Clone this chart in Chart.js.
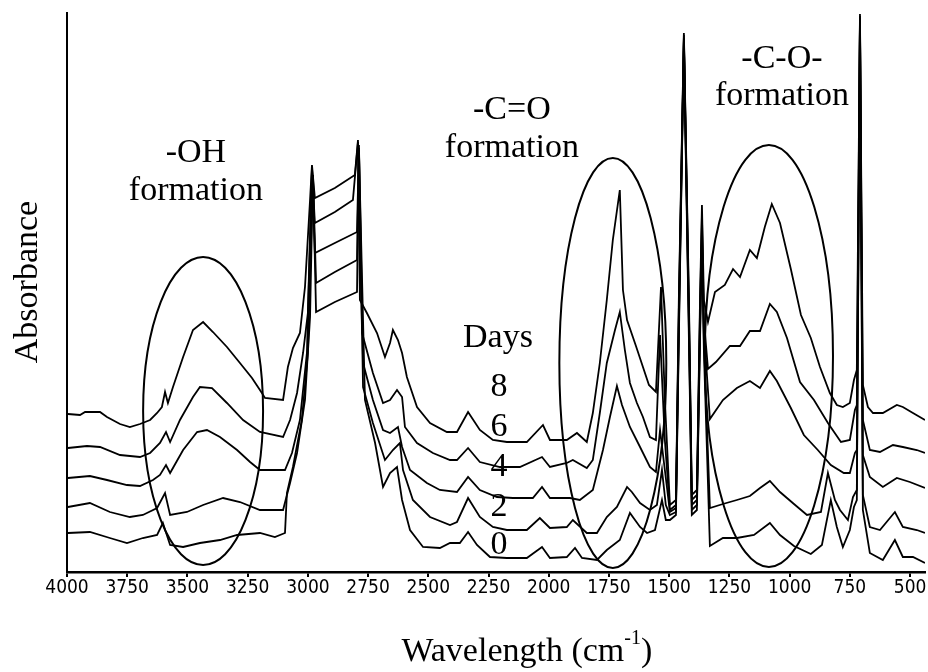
<!DOCTYPE html>
<html>
<head>
<meta charset="utf-8">
<script src="https://cdn.jsdelivr.net/npm/chart.js@4.4.1/dist/chart.umd.min.js"></script>
<style>
  html, body { margin: 0; padding: 0; background: #fff; }
  canvas { display: block; }
</style>
</head>
<body>
<canvas id="ftirChart" width="928" height="672"></canvas>
<script>
// FTIR spectra, stacked by exposure time (arbitrary absorbance units)
const day8Wn = [3996,3946,3925,3863,3834,3780,3739,3697,3655,3626,3606,3593,3581,3560,3518,3477,3435,3394,3336,3282,3232,3199,3178,3103,3083,3062,3033,3012,2991,2983,2971,2888,2805,2792,2784,2755,2713,2680,2659,2647,2626,2609,2589,2547,2493,2423,2381,2335,2286,2232,2174,2091,2024,1995,1925,1883,1842,1817,1788,1759,1734,1705,1692,1675,1638,1584,1555,1534,1518,1497,1472,1460,1439,1418,1406,1385,1372,1364,1356,1339,1310,1269,1235,1206,1165,1136,1103,1074,1040,995,953,912,874,833,804,779,750,733,721,708,696,675,654,613,555,530,488,438];
const day8Abs = [158,157,160,160,155,148,145,148,152,159,165,180,169,185,215,242,250,240,225,209,194,182,174,172,205,224,239,285,372,407,374,384,397,432,272,259,239,215,229,242,232,219,195,165,149,140,140,160,142,132,130,130,147,132,132,139,130,159,209,272,332,382,282,252,226,187,180,285,172,67,72,272,539,272,77,82,272,367,272,250,280,287,303,295,322,314,345,368,349,303,257,234,205,179,167,165,169,192,202,558,187,165,159,159,167,165,159,152];

const day6Wn = [3996,3917,3863,3780,3697,3655,3614,3589,3572,3531,3477,3448,3398,3336,3269,3199,3103,3074,3045,3020,3000,2983,2971,2888,2813,2792,2775,2730,2688,2659,2630,2609,2597,2547,2481,2410,2381,2335,2286,2203,2120,2028,1995,1925,1900,1842,1817,1788,1759,1725,1705,1684,1663,1634,1609,1580,1555,1538,1518,1497,1472,1460,1439,1418,1406,1385,1372,1364,1356,1339,1306,1248,1206,1165,1123,1082,1053,1011,957,899,841,787,750,729,721,708,696,667,625,571,530,472,438];
const day6Abs = [124,126,125,117,115,119,129,140,130,152,175,185,184,169,152,140,135,152,179,219,259,405,349,360,372,430,239,199,169,172,182,175,145,129,119,112,112,124,110,105,105,115,105,109,112,104,112,159,209,242,260,222,189,169,155,135,132,237,132,62,67,262,537,262,72,77,262,357,252,203,210,226,226,241,241,268,260,234,190,172,149,130,132,162,167,556,152,122,120,127,125,122,119];

const day4Wn = [3996,3905,3834,3751,3697,3643,3614,3589,3572,3518,3460,3419,3365,3294,3240,3199,3095,3066,3033,3004,2983,2971,2888,2796,2788,2771,2730,2688,2659,2626,2609,2576,2506,2452,2381,2335,2286,2215,2149,2066,2028,1995,1912,1871,1817,1775,1746,1717,1696,1663,1621,1580,1555,1538,1518,1497,1472,1460,1439,1418,1406,1385,1372,1364,1356,1331,1277,1219,1165,1123,1082,1053,995,941,883,829,775,750,729,721,708,696,667,613,555,501,438];
const day4Abs = [94,96,92,87,86,92,97,107,99,122,140,142,135,122,110,102,102,119,152,219,402,319,329,340,427,209,172,142,139,145,125,102,89,82,80,95,82,75,74,74,85,74,74,72,82,122,155,186,167,145,125,105,100,142,102,60,64,252,534,252,67,72,252,347,242,153,172,184,191,184,201,191,164,137,122,107,99,99,119,122,554,117,95,85,94,90,84];

const day2Wn = [3996,3905,3822,3739,3685,3626,3593,3572,3502,3435,3352,3282,3199,3103,3074,3045,3012,2991,2979,2966,2888,2796,2788,2771,2730,2680,2647,2618,2605,2564,2493,2410,2381,2335,2286,2232,2174,2091,2037,1995,1925,1900,1842,1800,1759,1717,1675,1655,1621,1580,1551,1530,1514,1497,1472,1460,1439,1418,1406,1385,1372,1364,1356,1331,1277,1219,1165,1123,1082,1040,982,928,870,841,812,791,758,737,721,708,696,667,625,563,530,472,438];
const day2Abs = [65,69,60,55,57,64,79,57,60,67,74,70,62,62,89,119,172,255,397,289,300,312,424,185,149,112,122,129,102,72,55,47,50,74,55,45,42,42,54,44,45,52,39,39,55,65,85,80,69,62,67,102,67,57,60,242,532,242,62,67,242,337,232,64,68,72,76,84,91,80,68,57,60,99,72,62,52,75,82,552,77,45,42,60,45,42,39];

const day0Wn = [3996,3905,3822,3751,3685,3626,3602,3572,3518,3448,3365,3294,3199,3137,3095,3087,3062,3025,3000,2979,2966,2888,2796,2788,2763,2721,2688,2659,2630,2609,2576,2522,2452,2410,2369,2335,2298,2244,2174,2091,2028,1995,1925,1891,1862,1800,1759,1705,1663,1621,1592,1559,1530,1514,1497,1472,1460,1439,1418,1406,1385,1372,1364,1356,1331,1277,1219,1148,1082,1040,982,912,866,829,804,779,750,733,721,708,696,667,613,563,530,488,438];
const day0Abs = [39,40,34,29,34,37,49,27,25,29,32,37,39,35,39,79,105,152,219,397,260,270,280,422,172,129,85,99,105,72,42,25,24,29,29,40,27,15,14,14,25,14,15,24,14,12,22,32,59,45,39,42,72,52,52,57,232,530,232,57,62,232,327,222,26,34,34,37,49,37,26,18,27,72,45,25,42,65,72,550,62,19,12,32,15,15,9];

const seriesNames = ['8', '6', '4', '2', '0'];
const seriesWn = [day8Wn, day6Wn, day4Wn, day2Wn, day0Wn];
const seriesAbs = [day8Abs, day6Abs, day4Abs, day2Abs, day0Abs];

// axis range (cm-1, reversed) and tick labels
const wnMin = 438;
const wnMax = 4000;
const xTickValues = [4000, 3750, 3500, 3250, 3000, 2750, 2500, 2250, 2000, 1750, 1500, 1250, 1000, 750, 500];
const absMin = 0;
const absMax = 559;

// annotations, in data units
const regionEllipses = [
  { wn: 3435, abs: 161, wnRadius: 249, absRadius: 154 },
  { wn: 1734, abs: 209, wnRadius: 222, absRadius: 205 },
  { wn: 1086, abs: 216, wnRadius: 266, absRadius: 211 }
];
const regionLabels = [
  { text: '-OH', wn: 3465, abs: 419 },
  { text: 'formation', wn: 3465, abs: 381 },
  { text: '-C=O', wn: 2153, abs: 462 },
  { text: 'formation', wn: 2153, abs: 424 },
  { text: '-C-O-', wn: 1032, abs: 513 },
  { text: 'formation', wn: 1032, abs: 476 }
];
const daysTitle = { text: 'Days', wn: 2211, abs: 234 };
const daysLabelWn = 2207;
const daysLabelAbs = [185, 145, 105, 65, 27];

const serifFont = '"Liberation Serif", "Times New Roman", serif';

const annotationPlugin = {
  id: 'ftirAnnotations',
  afterDatasetsDraw(chart) {
    const { ctx, scales: { x, y } } = chart;
    ctx.save();

    ctx.strokeStyle = '#000';
    ctx.lineWidth = 2;
    regionEllipses.forEach(e => {
      const cx = x.getPixelForValue(e.wn);
      const cy = y.getPixelForValue(e.abs);
      const rx = Math.abs(x.getPixelForValue(e.wn - e.wnRadius) - cx);
      const ry = Math.abs(y.getPixelForValue(e.abs + e.absRadius) - cy);
      ctx.beginPath();
      ctx.ellipse(cx, cy, rx, ry, 0, 0, Math.PI * 2);
      ctx.stroke();
    });

    ctx.fillStyle = '#000';
    ctx.font = `34px ${serifFont}`;
    ctx.textAlign = 'center';
    ctx.textBaseline = 'middle';
    regionLabels.forEach(t => {
      ctx.fillText(t.text, x.getPixelForValue(t.wn), y.getPixelForValue(t.abs));
    });
    ctx.fillText(daysTitle.text, x.getPixelForValue(daysTitle.wn), y.getPixelForValue(daysTitle.abs));
    seriesNames.forEach((name, i) => {
      ctx.fillText(name, x.getPixelForValue(daysLabelWn), y.getPixelForValue(daysLabelAbs[i]));
    });

    // y title
    ctx.save();
    ctx.translate(x.getPixelForValue(4162), y.getPixelForValue(290));
    ctx.rotate(-Math.PI / 2);
    ctx.fillText('Absorbance', 0, 0);
    ctx.restore();

    // x title with superscript
    const mainA = 'Wavelength (cm';
    const sup = '-1';
    const mainB = ')';
    ctx.font = `34px ${serifFont}`;
    const wA = ctx.measureText(mainA).width;
    const wB = ctx.measureText(mainB).width;
    ctx.font = `20px ${serifFont}`;
    const wS = ctx.measureText(sup).width;
    const total = wA + wS + wB;
    const cx = x.getPixelForValue(2091);
    const cy = y.getPixelForValue(-80);
    const left = cx - total / 2;
    ctx.textAlign = 'left';
    ctx.font = `34px ${serifFont}`;
    ctx.fillText(mainA, left, cy);
    ctx.font = `20px ${serifFont}`;
    ctx.fillText(sup, left + wA, cy - 13);
    ctx.font = `34px ${serifFont}`;
    ctx.fillText(mainB, left + wA + wS, cy);

    ctx.restore();
  }
};

const datasets = seriesNames.map((name, i) => ({
  label: name,
  data: seriesWn[i].map((w, j) => ({ x: w, y: seriesAbs[i][j] })),
  borderColor: '#000',
  borderWidth: 1.8,
  pointRadius: 0,
  tension: 0,
  fill: false
}));

new Chart(document.getElementById('ftirChart'), {
  type: 'line',
  data: { datasets },
  options: {
    responsive: false,
    devicePixelRatio: 1,
    animation: false,
    layout: { padding: { left: 0, right: 3, top: 13, bottom: 0 } },
    plugins: {
      legend: { display: false },
      tooltip: { enabled: false }
    },
    scales: {
      x: {
        type: 'linear',
        reverse: true,
        min: wnMin,
        max: wnMax,
        afterBuildTicks(scale) {
          scale.ticks = xTickValues.map(v => ({ value: v }));
        },
        afterFit(scale) {
          scale.height = 100;
          scale.paddingLeft = 0;
          scale.paddingRight = 0;
        },
        border: { display: true, color: '#000', width: 2.5 },
        grid: {
          display: true,
          drawOnChartArea: false,
          drawTicks: true,
          tickLength: 5,
          color: '#000',
          lineWidth: 2
        },
        ticks: {
          autoSkip: false,
          maxRotation: 0,
          padding: 0,
          color: '#000',
          callback: v => String(v),
          font: { family: '"Liberation Sans Narrow", "DejaVu Sans Condensed", sans-serif', size: 19 }
        }
      },
      y: {
        min: absMin,
        max: absMax,
        afterFit(scale) { scale.width = 67; },
        border: { display: true, color: '#000', width: 2 },
        grid: { display: false },
        ticks: { display: false }
      }
    }
  },
  plugins: [annotationPlugin]
});
</script>
</body>
</html>
